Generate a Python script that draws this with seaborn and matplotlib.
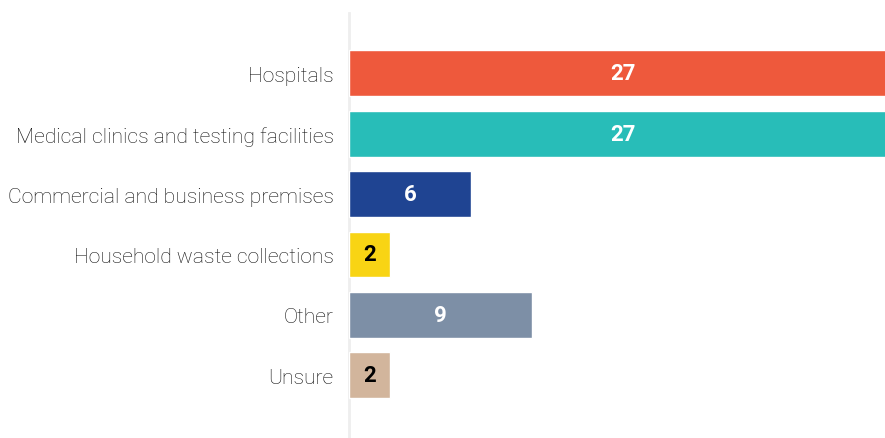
import pandas as pd
import matplotlib.pyplot as plt
import seaborn as sns

# Data
categories = ["Hospitals", "Medical clinics and testing facilities",
              "Commercial and business premises", "Household waste collections",
              "Other", "Unsure"]
counts = [27, 27, 6, 2, 9, 2]
colors = ["#EE593C", "#28BDB8", "#1F4492", "#F8D414", "#7D8FA6", "#D2B59C"]
label_colors = ["white", "white", "white", "black", "white", "black"]

df = pd.DataFrame({"category": categories, "count": counts})

sns.set_style("white")
plt.rcParams['font.family'] = ['Roboto', 'DejaVu Sans']

fig = plt.figure(figsize=(8.85, 4.39), dpi=100)
ax = fig.add_axes([349 / 885, 0, 1 - 349 / 885, 1 - 14 / 439])

sns.barplot(data=df, x="count", y="category", hue="category",
            palette=colors, width=0.76, legend=False, ax=ax, saturation=1)

ax.set_xlim(0, (885 - 349) / 20.3)
ax.set_ylim(6.04, -1.0)

# value labels centred on each bar
for i, (v, c) in enumerate(zip(counts, label_colors)):
    ax.text(v / 2, i, str(v), ha="center", va="center", color=c,
            fontsize=16, fontweight="bold", family=['Roboto', 'DejaVu Sans'])

ax.set_xlabel("")
ax.set_ylabel("")
ax.set_xticks([])
ax.tick_params(axis="y", length=0, pad=11)
for lbl in ax.get_yticklabels():
    lbl.set_fontsize(15.2)
    lbl.set_fontweight("light")
    lbl.set_color("#111111")

for s in ["top", "right", "bottom"]:
    ax.spines[s].set_visible(False)
ax.spines["left"].set_color("#EEEEEE")
ax.spines["left"].set_linewidth(2)
ax.spines["left"].set_zorder(0.5)  # bars sit on top of the axis line

fig.savefig("out.png", dpi=100)
